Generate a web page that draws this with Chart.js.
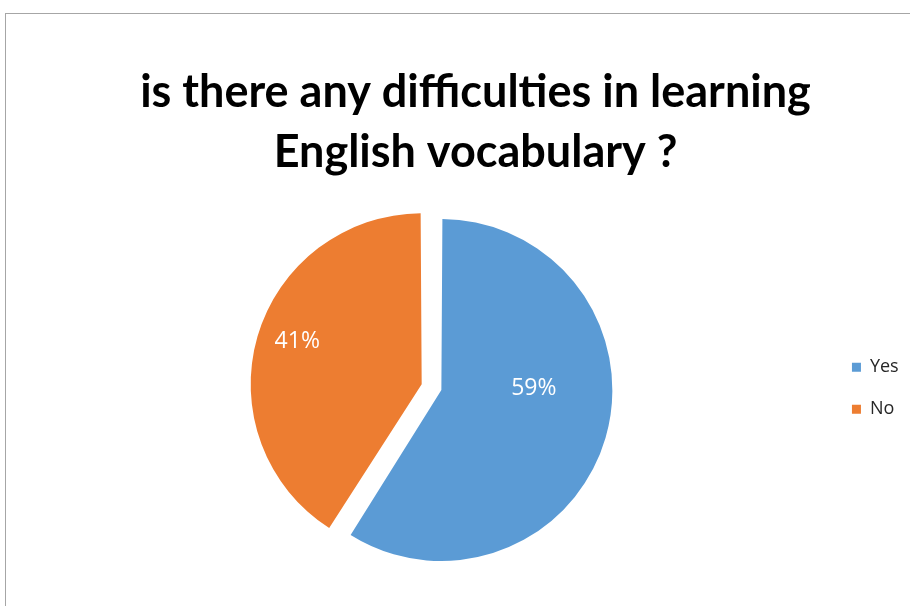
<!DOCTYPE html>
<html lang="en">
<head>
  <meta charset="UTF-8">
  <title>Difficulties in learning English vocabulary</title>
  <script src="https://cdn.jsdelivr.net/npm/chart.js@4.4.1/dist/chart.umd.min.js"></script>
  <style>
    html, body { margin: 0; padding: 0; background: #ffffff; }
    #frame {
      position: absolute;
      left: 5px;
      top: 13px;
      width: 905px;
      height: 593px;
      border-left: 1px solid #a6a6a6;
      border-top: 1px solid #a6a6a6;
    }
    #wrap { position: absolute; left: 0; top: 0; width: 910px; height: 606px; }
  </style>
</head>
<body>
  <div id="frame"></div>
  <div id="wrap"><canvas id="pie"></canvas></div>

  <script>
    // chart data
    var titleLines = ['is there any difficulties in learning', 'English vocabulary ?'];
    var answers = ['Yes', 'No'];
    var shares = [59, 41];
    var sliceColors = ['#5b9bd5', '#ed7d31'];

    // white percentage labels inside the slices
    // placement: [fraction of radius, angle shift from slice middle in degrees]
    var sliceLabels = {
      id: 'sliceLabels',
      afterDatasetsDraw: function(chart) {
        var ctx = chart.ctx;
        var meta = chart.getDatasetMeta(0);
        var place = [[0.60, -16.2], [0.886, 2.7]];
        ctx.save();
        ctx.fillStyle = '#ffffff';
        ctx.font = '23px "Open Sans", sans-serif';
        ctx.textAlign = 'center';
        ctx.textBaseline = 'middle';
        meta.data.forEach(function(arc, i) {
          var p = arc.getProps(['x', 'y', 'startAngle', 'endAngle', 'outerRadius'], true);
          var a = (p.startAngle + p.endAngle) / 2 + place[i][1] * Math.PI / 180;
          var r = p.outerRadius * place[i][0];
          ctx.fillText(shares[i] + '%', p.x + Math.cos(a) * r, p.y + Math.sin(a) * r);
        });
        ctx.restore();
      }
    };

    new Chart(document.getElementById('pie'), {
      type: 'pie',
      data: {
        labels: answers,
        datasets: [{
          data: shares,
          backgroundColor: sliceColors,
          borderWidth: 0,
          offset: [26, 56],   // exploded slices
          hoverOffset: 0,
          radius: 164.5
        }]
      },
      options: {
        responsive: true,
        maintainAspectRatio: false,
        animation: false,
        layout: { padding: { left: 42.3, right: 1.3, top: 0, bottom: 30.6 } },
        plugins: {
          legend: {
            position: 'right',
            fullSize: false,
            labels: {
              boxWidth: 9,
              boxHeight: 9,
              padding: 24,
              color: '#262626',
              font: { family: '"Open Sans", sans-serif', size: 18 }
            }
          },
          tooltip: { enabled: false },
          title: {
            display: true,
            text: titleLines,
            color: '#000000',
            font: { family: 'Lato, sans-serif', size: 45, weight: 'bold', lineHeight: 60 / 45 },
            padding: { top: 62, bottom: 19 }
          }
        }
      },
      plugins: [sliceLabels]
    });
  </script>
</body>
</html>
